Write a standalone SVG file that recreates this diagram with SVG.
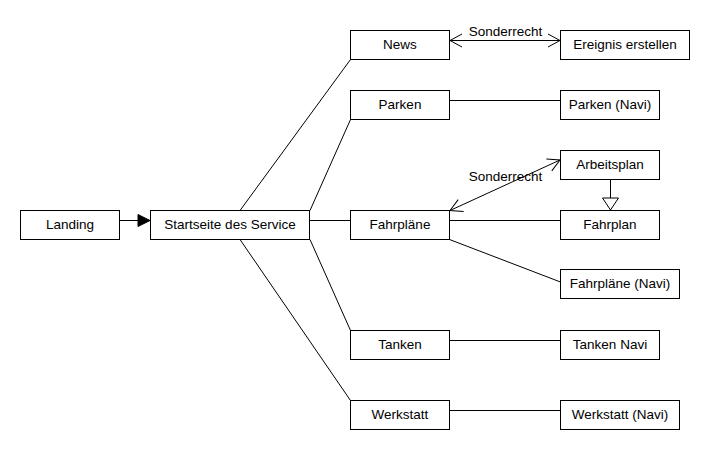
<svg xmlns="http://www.w3.org/2000/svg" width="710" height="450" viewBox="0 0 710 450">
<defs>
<style>
.box{fill:#fff;stroke:#000;stroke-width:1}
.lbl{font-family:"Liberation Sans",Arial,sans-serif;font-size:13.5px;fill:#000;text-anchor:middle}
.ln{fill:none;stroke:#000;stroke-width:1}
</style>
<marker id="open" viewBox="-13 -8 14 16" markerWidth="14" markerHeight="16" refX="0" refY="0" orient="auto-start-reverse" markerUnits="userSpaceOnUse">
<path d="M-12,-6.5 L0,0 L-12,6.5" fill="none" stroke="#000" stroke-width="1"/>
</marker>
<marker id="filled" viewBox="-13 -8 14 16" markerWidth="14" markerHeight="16" refX="0" refY="0" orient="auto" markerUnits="userSpaceOnUse">
<path d="M-12,-6 L0,0 L-12,6 Z" fill="#000" stroke="#000" stroke-width="1"/>
</marker>
<marker id="gen" viewBox="-13 -9 14 18" markerWidth="14" markerHeight="18" refX="0" refY="0" orient="auto" markerUnits="userSpaceOnUse">
<path d="M-12,-8 L0,0 L-12,8 Z" fill="#fff" stroke="#000" stroke-width="1"/>
</marker>
</defs>
<rect width="710" height="450" fill="#fff"/>
<g id="connectors">
<line class="ln" x1="119.5" y1="220.5" x2="150" y2="220.5" marker-end="url(#filled)"/>
<line class="ln" x1="240" y1="210.5" x2="350.5" y2="59.5"/>
<line class="ln" x1="310" y1="210.5" x2="350.5" y2="119.5"/>
<line class="ln" x1="309.5" y1="220.5" x2="350.5" y2="220.5"/>
<line class="ln" x1="310" y1="239.5" x2="350.5" y2="330.5"/>
<line class="ln" x1="240" y1="239.5" x2="350.5" y2="400.5"/>
<line class="ln" x1="450" y1="40.5" x2="560" y2="40.5" marker-start="url(#open)" marker-end="url(#open)"/>
<line class="ln" x1="449.5" y1="100.5" x2="560.5" y2="100.5"/>
<line class="ln" x1="450" y1="210.5" x2="560" y2="160" marker-start="url(#open)" marker-end="url(#open)"/>
<line class="ln" x1="610.5" y1="179.5" x2="610.5" y2="210" marker-end="url(#gen)"/>
<line class="ln" x1="449.5" y1="220.5" x2="560.5" y2="220.5"/>
<line class="ln" x1="449.5" y1="239.5" x2="560.5" y2="282"/>
<line class="ln" x1="449.5" y1="340.5" x2="560.5" y2="340.5"/>
<line class="ln" x1="449.5" y1="410.5" x2="560.5" y2="410.5"/>
<text class="lbl" x="505.5" y="36">Sonderrecht</text>
<text class="lbl" x="505.5" y="181">Sonderrecht</text>
</g>
<g id="landing"><rect class="box" x="20.5" y="210.5" width="99" height="29"/><text class="lbl" x="70" y="229">Landing</text></g>
<g id="startseite"><rect class="box" x="150.5" y="210.5" width="159" height="29"/><text class="lbl" x="230" y="229">Startseite des Service</text></g>
<g id="news"><rect class="box" x="350.5" y="30.5" width="99" height="29"/><text class="lbl" x="400" y="49">News</text></g>
<g id="ereignis"><rect class="box" x="560.5" y="30.5" width="129" height="29"/><text class="lbl" x="625" y="49">Ereignis erstellen</text></g>
<g id="parken"><rect class="box" x="350.5" y="90.5" width="99" height="29"/><text class="lbl" x="400" y="109">Parken</text></g>
<g id="parken-navi"><rect class="box" x="560.5" y="90.5" width="99" height="29"/><text class="lbl" x="610" y="109">Parken (Navi)</text></g>
<g id="arbeitsplan"><rect class="box" x="560.5" y="150.5" width="99" height="29"/><text class="lbl" x="610" y="169">Arbeitsplan</text></g>
<g id="fahrplaene"><rect class="box" x="350.5" y="210.5" width="99" height="29"/><text class="lbl" x="400" y="229">Fahrpläne</text></g>
<g id="fahrplan"><rect class="box" x="560.5" y="210.5" width="99" height="29"/><text class="lbl" x="610" y="229">Fahrplan</text></g>
<g id="fahrplaene-navi"><rect class="box" x="560.5" y="269.5" width="119" height="29"/><text class="lbl" x="620" y="288">Fahrpläne (Navi)</text></g>
<g id="tanken"><rect class="box" x="350.5" y="330.5" width="99" height="29"/><text class="lbl" x="400" y="349">Tanken</text></g>
<g id="tanken-navi"><rect class="box" x="560.5" y="330.5" width="99" height="29"/><text class="lbl" x="610" y="349">Tanken Navi</text></g>
<g id="werkstatt"><rect class="box" x="350.5" y="400.5" width="99" height="29"/><text class="lbl" x="400" y="419">Werkstatt</text></g>
<g id="werkstatt-navi"><rect class="box" x="560.5" y="400.5" width="119" height="29"/><text class="lbl" x="620" y="419">Werkstatt (Navi)</text></g>
</svg>
